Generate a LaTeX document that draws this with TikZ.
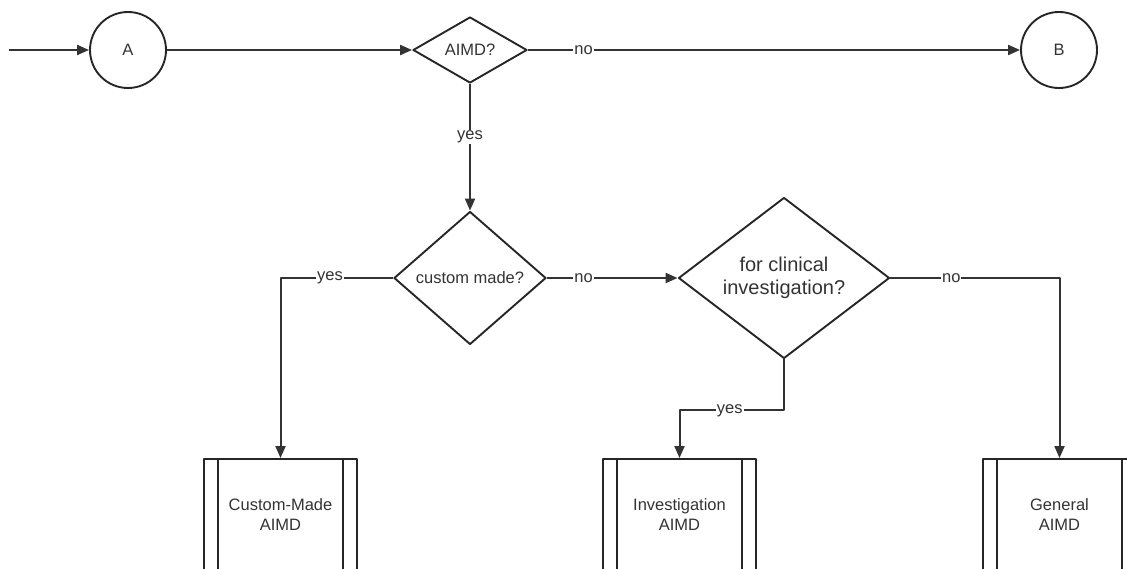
\documentclass[tikz,border=0pt]{standalone}
\usepackage{fontspec}
\setmainfont{Liberation Sans}
\usetikzlibrary{shapes.geometric,arrows.meta}
\tikzset{
  lbl/.style={fill=white,inner sep=1pt,text=black!80},
  ask/.style={diamond,draw=black!85,line width=1.9pt,inner sep=0pt,align=center,text=black!80},
  term/.style={circle,draw=black!85,line width=1.9pt,inner sep=0pt,minimum size=76pt,text=black!80},
  proc/.style={rectangle,draw=black!85,line width=1.9pt,inner sep=0pt,minimum width=153pt,minimum height=112pt,align=center,text=black!80}
}
\begin{document}
\begin{tikzpicture}[x=1pt,y=-1pt,>={Triangle[length=12pt,width=10pt]},line join=round,font=\fontsize{16.5}{20}\selectfont]
\useasboundingbox (0,0) rectangle (1127,569);
\path
(9,50) coordinate (S)
(128,50) coordinate (PA)
(470,50) coordinate (PQ)
(1059,50) coordinate (PB)
(470,278) coordinate (PC)
(784,278) coordinate (PI)
(280.5,515) coordinate (PX)
(679.5,515) coordinate (PY)
(1059.5,515) coordinate (PZ);
\node[term] (A) at (PA) {A};
\node[term] (B) at (PB) {B};
\node[ask,minimum width=114pt,minimum height=66pt,aspect=1.7] (aimd) at (PQ) {AIMD?};
\node[ask,minimum width=152pt,minimum height=133pt,aspect=1.14] (cust) at (PC) {custom made?};
\node[ask,minimum width=211pt,minimum height=161pt,aspect=1.31,font=\fontsize{20}{23}\selectfont] (clin) at (PI) {for clinical\\investigation?};
\node[proc] (cmbox) at (PX) {Custom-Made\\AIMD};
\node[proc] (invbox) at (PY) {Investigation\\AIMD};
\node[proc] (genbox) at (PZ) {General\\AIMD};
\foreach \b in {cmbox,invbox,genbox} {
  \draw[black!85,line width=1.9pt] ([xshift=15pt]\b.north west) -- ([xshift=15pt]\b.south west);
  \draw[black!85,line width=1.9pt] ([xshift=-15pt]\b.north east) -- ([xshift=-15pt]\b.south east);
}
% connectors
\begin{scope}[black!80,line width=2pt]
\draw[->] (S) -- (A);
\draw[->] (A) -- (aimd);
\draw[->] (aimd) -- node[lbl,pos=0.113] {no} (B);
\draw[->] (aimd) -- node[lbl,pos=0.42] {yes} (cust);
\draw[->] (cust) -- node[lbl,pos=0.28] {no} (clin);
\draw[->] (cust.west) -| node[lbl,pos=0.28] {yes} (cmbox.north);
\draw[->] (clin.east) -| node[lbl,pos=0.18] {no} (genbox.north);
\draw[->] (clin.south) -- ++(0,51) coordinate (K) -| node[lbl,pos=0.26] {yes} (invbox.north);
\end{scope}
\end{tikzpicture}
\end{document}
